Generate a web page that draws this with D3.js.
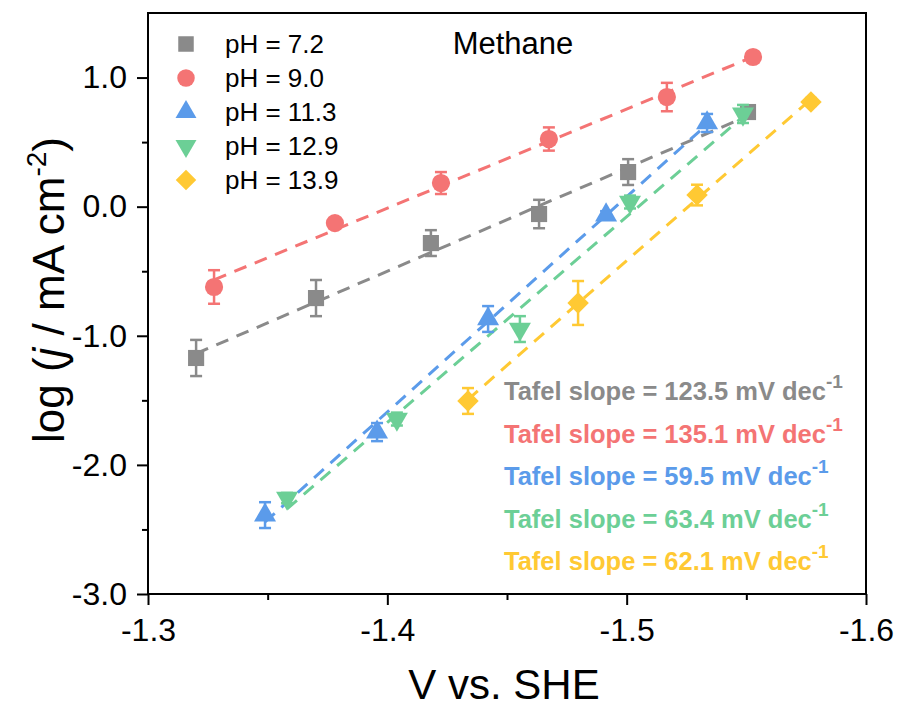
<!DOCTYPE html>
<html lang="en">
  <head>
    <meta charset="UTF-8" />
    <title>Tafel plot - Methane</title>
    <script src="https://d3js.org/d3.v7.min.js"></script>
    <style>
      body {
        margin: 0;
        background: #fff;
        font-family: 'Liberation Sans', Arial, sans-serif;
      }
    </style>
  </head>
  <body>
    <div id="chart"></div>
    <script>
      // series data: potential (V vs SHE), log j, error
      const seriesNames = ['pH = 7.2', 'pH = 9.0', 'pH = 11.3', 'pH = 12.9', 'pH = 13.9'];
      const seriesColors = ['#8a8a8a', '#f47474', '#5b9bea', '#6ccf96', '#ffc933'];
      const slopeLabels = ['123.5', '135.1', '59.5', '63.4', '62.1'];

      const vGray = [-1.3201, -1.3702, -1.4182, -1.4634, -1.5006, -1.5507];
      const jGray = [-1.172, -0.708, -0.282, -0.057, 0.268, 0.733];
      const eGray = [0.14, 0.14, 0.1, 0.11, 0.1, 0.03];

      const vRed = [-1.3276, -1.3781, -1.4224, -1.4675, -1.5168, -1.5528];
      const jRed = [-0.622, -0.127, 0.183, 0.524, 0.849, 1.159];
      const eRed = [0.13, 0.03, 0.085, 0.09, 0.11, 0.03];

      const vBlue = [-1.3489, -1.3957, -1.4421, -1.4914, -1.5336];
      const jBlue = [-2.389, -1.746, -0.87, -0.065, 0.648];
      const eBlue = [0.1, 0.07, 0.1, 0.03, 0.07];

      const vGreen = [-1.3581, -1.404, -1.4554, -1.5014, -1.5486];
      const jGreen = [-2.257, -1.645, -0.948, 0.036, 0.718];
      const eGreen = [0.04, 0.05, 0.1, 0.05, 0.07];

      const vYellow = [-1.4337, -1.4797, -1.5294, -1.577];
      const jYellow = [-1.505, -0.746, 0.09, 0.811];
      const eYellow = [0.1, 0.17, 0.08, 0.03];

      const xTicks = [-1.3, -1.4, -1.5, -1.6];
      const yTicks = [-3, -2, -1, 0, 1];

      const allV = [vGray, vRed, vBlue, vGreen, vYellow];
      const allJ = [jGray, jRed, jBlue, jGreen, jYellow];
      const allE = [eGray, eRed, eBlue, eGreen, eYellow];

      const W = 901, H = 708;
      const margin = { top: 13, right: 35, bottom: 114, left: 148 };
      const width = W - margin.left - margin.right;
      const height = H - margin.top - margin.bottom;

      const svg = d3
        .select('#chart')
        .append('svg')
        .attr('width', W)
        .attr('height', H);

      const g = svg
        .append('g')
        .attr('transform', `translate(${margin.left},${margin.top})`);

      const x = d3.scaleLinear().domain([-1.3, -1.6]).range([0, width]);
      const y = d3.scaleLinear().domain([-3, 1.5]).range([height, 0]);

      // minor ticks
      const xMinor = [-1.35, -1.45, -1.55];
      const yMinor = [-2.5, -1.5, -0.5, 0.5];

      g.append('g')
        .attr('transform', `translate(0,${height})`)
        .call(
          d3.axisBottom(x).tickValues(xTicks).tickFormat(d3.format('.1f')).tickSize(11).tickPadding(13)
        );
      g.append('g')
        .attr('transform', `translate(0,${height})`)
        .call(d3.axisBottom(x).tickValues(xMinor).tickFormat('').tickSize(6));

      g.append('g')
        .call(
          d3.axisLeft(y).tickValues(yTicks).tickFormat(d3.format('.1f')).tickSize(11).tickPadding(10)
        );
      g.append('g')
        .call(d3.axisLeft(y).tickValues(yMinor).tickFormat('').tickSize(6));

      g.selectAll('.tick line').attr('stroke', '#000').attr('stroke-width', 2);
      g.selectAll('.domain').remove();
      g.selectAll('.tick text')
        .attr('font-family', "'Liberation Sans', Arial, sans-serif")
        .attr('font-size', 32)
        .attr('fill', '#000')
        .text(function () {
          return this.textContent.replace('\u2212', '-');
        });

      // frame
      g.append('rect')
        .attr('x', 0)
        .attr('y', 0)
        .attr('width', width)
        .attr('height', height)
        .attr('fill', 'none')
        .attr('stroke', '#000')
        .attr('stroke-width', 2);

      // fit lines (least squares)
      function fit(vs, js) {
        const mx = d3.mean(vs), my = d3.mean(js);
        let num = 0, den = 0;
        vs.forEach((v, i) => {
          num += (v - mx) * (js[i] - my);
          den += (v - mx) * (v - mx);
        });
        const b = num / den;
        return v => my + b * (v - mx);
      }

      allV.forEach((vs, s) => {
        const f = fit(vs, allJ[s]);
        const ends = [vs[0], vs[vs.length - 1]];
        g.append('path')
          .datum(ends)
          .attr('fill', 'none')
          .attr('stroke', seriesColors[s])
          .attr('stroke-width', 3)
          .attr('stroke-dasharray', '13,9')
          .attr(
            'd',
            d3.line().x(v => x(v)).y(v => y(f(v)))
          );
      });

      // markers
      const symbols = [
        { type: d3.symbolSquare, size: 260, rot: 0 },
        { type: d3.symbolCircle, size: 260, rot: 0 },
        { type: d3.symbolTriangle, size: 210, rot: 0 },
        { type: d3.symbolTriangle, size: 210, rot: 180 },
        { type: d3.symbolSquare, size: 230, rot: 45 }
      ];

      allV.forEach((vs, s) => {
        const pts = vs.map((v, i) => ({ v, j: allJ[s][i], e: allE[s][i] }));
        const grp = g.append('g');
        const eb = grp
          .selectAll('g.eb')
          .data(pts)
          .enter()
          .append('g')
          .attr('stroke', seriesColors[s])
          .attr('stroke-width', 2.5);
        eb.append('line')
          .attr('x1', d => x(d.v))
          .attr('x2', d => x(d.v))
          .attr('y1', d => y(d.j + d.e))
          .attr('y2', d => y(d.j - d.e));
        eb.append('line')
          .attr('x1', d => x(d.v) - 6)
          .attr('x2', d => x(d.v) + 6)
          .attr('y1', d => y(d.j + d.e))
          .attr('y2', d => y(d.j + d.e));
        eb.append('line')
          .attr('x1', d => x(d.v) - 6)
          .attr('x2', d => x(d.v) + 6)
          .attr('y1', d => y(d.j - d.e))
          .attr('y2', d => y(d.j - d.e));

        const sym = symbols[s];
        grp
          .selectAll('path.mk')
          .data(pts)
          .enter()
          .append('path')
          .attr('d', d3.symbol().type(sym.type).size(sym.size))
          .attr('transform', d => `translate(${x(d.v)},${y(d.j)}) rotate(${sym.rot})`)
          .attr('fill', seriesColors[s]);
      });

      // legend
      const legend = svg.append('g');
      seriesNames.forEach((name, s) => {
        const ly = 44 + s * 34;
        const sym = symbols[s];
        legend
          .append('path')
          .attr('d', d3.symbol().type(sym.type).size(sym.size - 20))
          .attr('transform', `translate(186,${ly}) rotate(${sym.rot})`)
          .attr('fill', seriesColors[s]);
        legend
          .append('text')
          .attr('x', 225)
          .attr('y', ly + 9)
          .attr('font-size', 26)
          .attr('fill', '#000')
          .text(name);
      });

      // title inside plot
      svg.append('text')
        .attr('x', 513)
        .attr('y', 54)
        .attr('text-anchor', 'middle')
        .attr('font-size', 31)
        .attr('fill', '#000')
        .text('Methane');

      // Tafel slope annotations
      slopeLabels.forEach((val, s) => {
        const t = svg
          .append('text')
          .attr('x', 504)
          .attr('y', 400 + s * 42.5)
          .attr('font-size', 25.5)
          .attr('font-weight', 'bold')
          .attr('fill', seriesColors[s]);
        t.append('tspan').text(`Tafel slope = ${val} mV dec`);
        t.append('tspan')
          .attr('dy', -12)
          .attr('font-size', 19)
          .text('-1');
      });

      // axis titles
      svg.append('text')
        .attr('x', 504)
        .attr('y', 699)
        .attr('text-anchor', 'middle')
        .attr('font-size', 42)
        .attr('fill', '#000')
        .text('V vs. SHE');

      const yt = svg
        .append('text')
        .attr('transform', `translate(64,290) rotate(-90)`)
        .attr('text-anchor', 'middle')
        .attr('font-size', 44)
        .attr('fill', '#000');
      yt.append('tspan').text('log (');
      yt.append('tspan').attr('font-style', 'italic').text('j');
      yt.append('tspan').text(' / mA cm');
      yt.append('tspan').attr('dy', -18).attr('font-size', 28).text('-2');
      yt.append('tspan').attr('dy', 18).text(')');
    </script>
  </body>
</html>
